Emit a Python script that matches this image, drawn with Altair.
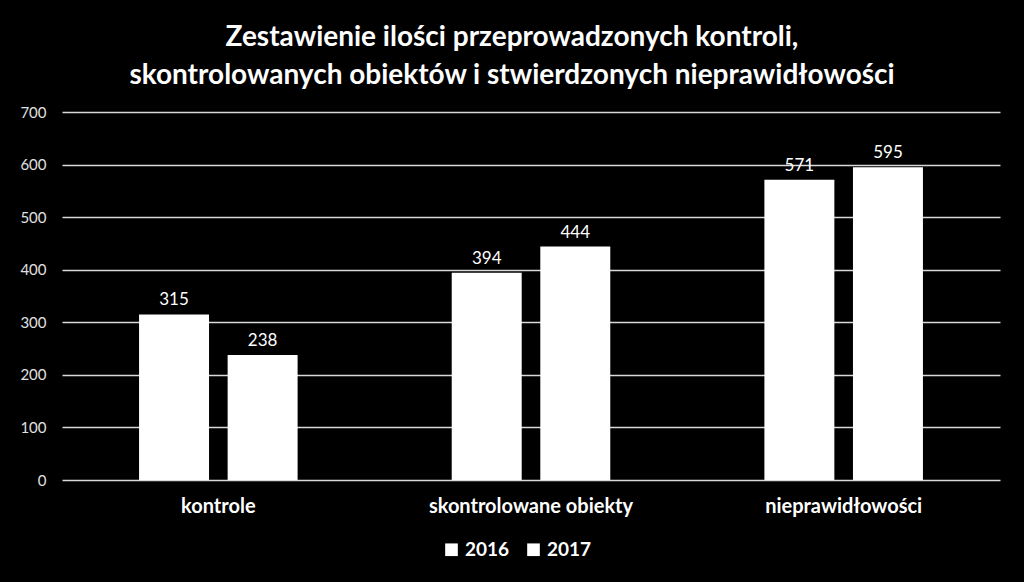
import altair as alt
import pandas as pd

categories = ["kontrole", "skontrolowane obiekty", "nieprawidłowości"]
years = ["2016", "2017"]
values_2016 = [315, 394, 571]
values_2017 = [238, 444, 595]

rows = []
for c, v1, v2 in zip(categories, values_2016, values_2017):
    rows.append({"kat": c, "rok": "2016", "val": v1})
    rows.append({"kat": c, "rok": "2017", "val": v2})
df = pd.DataFrame(rows)

FONT = "Lato"

x = alt.X("kat:N", sort=categories, title=None,
          scale=alt.Scale(paddingInner=0, paddingOuter=0),
          axis=alt.Axis(labelAngle=0, labelFontSize=20, labelFontWeight="bold", labelColor="white",
                        labelFont=FONT, domain=False, ticks=False, labelPadding=16, labelLimit=0))
xo = alt.XOffset("rok:N", scale=alt.Scale(paddingInner=0.21, paddingOuter=0.87))
y = alt.Y("val:Q", title=None,
          scale=alt.Scale(domain=[0, 700]),
          axis=alt.Axis(values=[0, 100, 200, 300, 400, 500, 600, 700], labelFontSize=15,
                        labelColor="#e0e0e0", labelFont=FONT, domain=False, ticks=False,
                        labelPadding=16, gridColor="#d9d9d9", gridWidth=1.5))

bars = alt.Chart(df).mark_bar(color="white").encode(
    x=x, xOffset=xo, y=y,
    color=alt.Color("rok:N", scale=alt.Scale(domain=years, range=["white", "white"]),
                    legend=alt.Legend(title=None, orient="none", legendX=380, legendY=428,
                                      direction="horizontal", symbolType="square", symbolSize=160,
                                      symbolStrokeWidth=0, labelFontSize=19, labelFontWeight="bold",
                                      labelColor="white", labelFont=FONT, columnPadding=14,
                                      labelOffset=4)),
)
text = alt.Chart(df).mark_text(color="white", fontSize=17, font=FONT, dy=-14).encode(
    x=x, xOffset=xo, y=y, text="val:Q")

chart = (bars + text).properties(
    width=938, height=368,
    background="black",
    padding={"left": 62, "top": 112, "right": 24, "bottom": 102},
    autosize=alt.AutoSizeParams(type="none"),
    title=alt.TitleParams(
        ["Zestawienie ilości przeprowadzonych kontroli,", "skontrolowanych obiektów i stwierdzonych nieprawidłowości"],
        color="white", fontSize=28, fontWeight="bold", font=FONT, anchor="middle", dx=-19,
        offset=15, lineHeight=38),
).configure_view(stroke=None)

chart.save("out.html", embed_options={"renderer": "svg", "actions": False})
